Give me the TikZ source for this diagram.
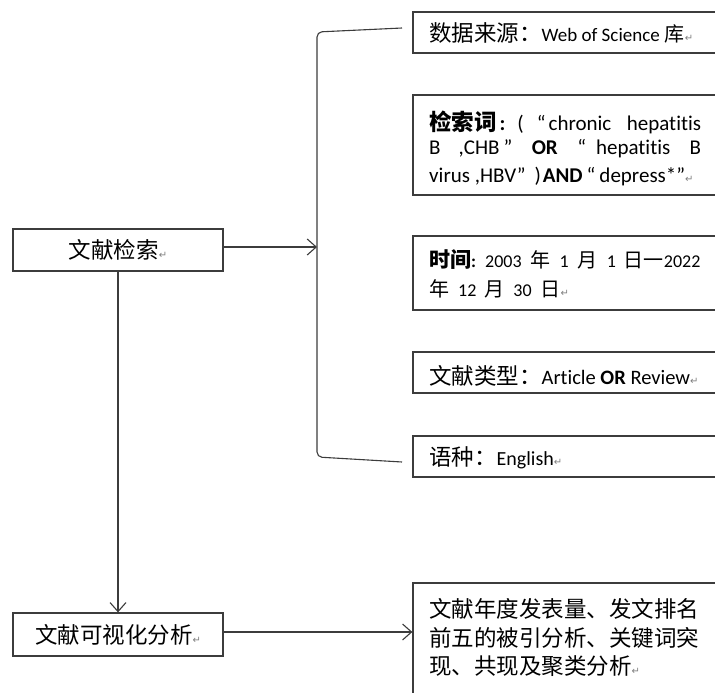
\documentclass[tikz,border=0pt]{standalone}
\usepackage{fontspec}
\setmainfont{Carlito}[Ligatures=NoCommon]
\newfontfamily\cjk{Noto Sans CJK SC}
\newfontfamily\dvs{DejaVu Sans}
\usetikzlibrary{arrows.meta}
\definecolor{ln}{HTML}{3C3C3C}
\newcommand\zh[1]{{\cjk\fontsize{22.5}{26}\selectfont #1}}
\newcommand\zhs[1]{{\cjk\fontsize{20}{22}\selectfont #1}}
\newcommand\zhb[1]{{\cjk\bfseries\fontsize{22.5}{26}\selectfont #1}}
\newcommand\zhbs[1]{{\cjk\bfseries\fontsize{21}{24}\selectfont #1}}
\newcommand\parmark{{\dvs\fontsize{10}{10}\selectfont\color{gray}↵}}
\begin{document}
\begin{tikzpicture}[x=1pt,y=-1pt,
  box/.style={draw=ln,line width=1.3pt,rectangle,inner sep=0pt},
  txt/.style={anchor=west,inner sep=0pt,font=\fontsize{20}{22}\selectfont},
  arr/.style={draw=ln,line width=1.1pt,-{Straight Barb[length=9pt,width=16pt,line width=1.1pt]}},
  brace/.style={draw=ln,line width=1.1pt,rounded corners=5pt}]
\clip (0,0) rectangle (715,693);
\fill[white] (0,0) rectangle (715,693);
% left boxes
\node[box,minimum width=210pt,minimum height=42pt] (search) at (118,250) {\zh{文献检索}\parmark};
\node[box,minimum width=210pt,minimum height=43pt] (vis) at (118,634.5) {\zh{文献可视化分析}\parmark};
% right boxes
\node[box,minimum width=327pt,minimum height=41pt] (b1) at (576.5,32.5) {};
\node[box,minimum width=327pt,minimum height=100pt] (b2) at (576.5,145) {};
\node[box,minimum width=327pt,minimum height=74pt] (b3) at (576.5,273) {};
\node[box,minimum width=327pt,minimum height=41pt] (b4) at (576.5,372.5) {};
\node[box,minimum width=327pt,minimum height=41pt] (b5) at (576.5,456.5) {};
\node[box,minimum width=327pt,minimum height=127pt] (b6) at (576.5,646.5) {};
% texts
\node[txt,font=\fontsize{19}{22}\selectfont] (t1) at (429,33) {\zh{数据来源：}Web of Science\hspace{5pt}\zhs{库}\parmark};
\node[txt,font=\fontsize{21}{24}\selectfont] (t2a) at (429,122) {\hbox to 272pt{\zhb{检索词}\hspace{3pt}\textbf{:}\hspace{12pt}(\hspace{13pt}“\hspace{3pt}chronic\hfill hepatitis}};
\node[txt,font=\fontsize{21}{24}\selectfont] (t2b) at (429,149) {\hbox to 272pt{B\hspace{18pt},CHB\hspace{4pt}”\hfill\textbf{OR}\hfill“\hspace{10pt}hepatitis\hfill B}};
\node[txt,font=\fontsize{21}{24}\selectfont] (t2c) at (429,177) {virus ,HBV”\hspace{9pt})\hspace{2pt}\textbf{AND}\hspace{4pt}“\hspace{4pt}depress*”\parmark};
\node[txt,font=\fontsize{18}{22}\selectfont] (t3a) at (429,260) {\zhbs{时间}\textbf{:}\hspace{9pt}2003\hspace{9pt}\zhs{年}\hspace{9pt}1\hspace{9pt}\zhs{月}\hspace{9pt}1\hspace{8pt}\zhs{日一}2022};
\node[txt,font=\fontsize{18}{22}\selectfont] (t3b) at (429,289) {\zhs{年}\hspace{9pt}12\hspace{8pt}\zhs{月}\hspace{9pt}30\hspace{9pt}\zhs{日}\parmark};
\node[txt,font=\fontsize{20.5}{22}\selectfont] (t4) at (429,376) {\zh{文献类型：}Article \textbf{OR} Review\parmark};
\node[txt] (t5) at (429,458) {\zh{语种：}English\parmark};
\node[txt] (t6a) at (429,609) {\zh{文献年度发表量、发文排名}};
\node[txt] (t6b) at (429,638) {\zh{前五的被引分析、关键词突}};
\node[txt] (t6c) at (429,666) {\zh{现、共现及聚类分析}\parmark};
% bracket
\coordinate (bt) at (402,28);
\coordinate (bb) at (402,462);
\coordinate (brk) at (317,247);
\draw[brace] (bt) -- (317,32) -- (317,457) -- (bb);
% connectors
\draw[arr] ([yshift=3pt]search.east) -- (brk);
\draw[arr] (search) -- (vis);
\draw[arr] ([yshift=2.5pt]vis.east) -- ([yshift=2.5pt]vis.east -| b6.west);
\end{tikzpicture}
\end{document}
